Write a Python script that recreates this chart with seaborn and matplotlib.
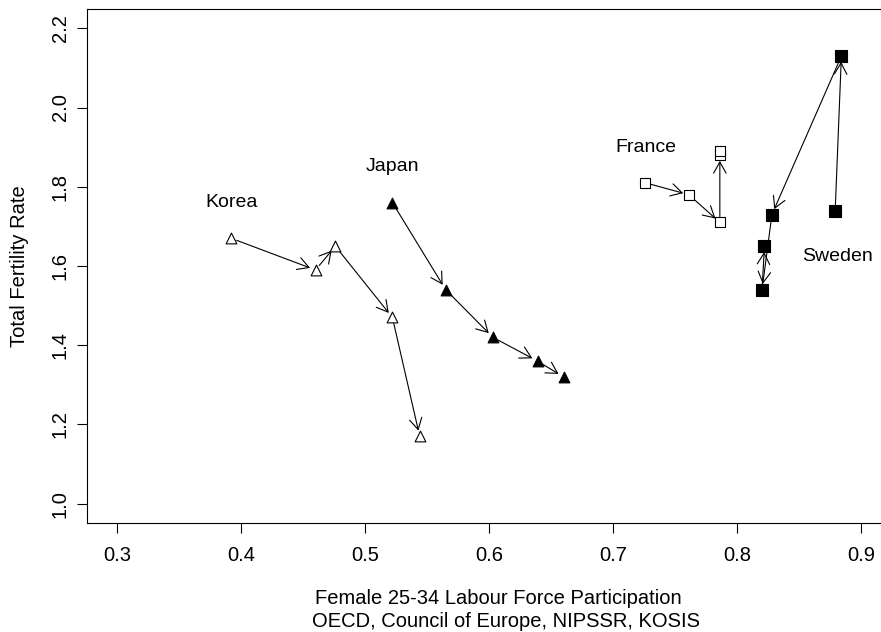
import numpy as np
import pandas as pd
import seaborn as sns
import matplotlib.pyplot as plt

# data
countries = ['Korea', 'Japan', 'France', 'Sweden']

korea_lfp = [0.392, 0.460, 0.476, 0.522, 0.544]
korea_tfr = [1.67, 1.59, 1.65, 1.47, 1.17]

japan_lfp = [0.522, 0.565, 0.603, 0.639, 0.660]
japan_tfr = [1.76, 1.54, 1.42, 1.36, 1.32]

france_lfp = [0.726, 0.761, 0.786, 0.786, 0.786]
france_tfr = [1.81, 1.78, 1.71, 1.88, 1.89]

sweden_lfp = [0.879, 0.884, 0.828, 0.820, 0.822]
sweden_tfr = [1.74, 2.13, 1.73, 1.54, 1.65]

label_x = [0.392, 0.522, 0.726, 0.881]
label_y = [1.76, 1.85, 1.90, 1.625]

x_ticks = [0.3, 0.4, 0.5, 0.6, 0.7, 0.8, 0.9]
y_ticks = [1.0, 1.2, 1.4, 1.6, 1.8, 2.0, 2.2]

sns.set_theme(style='ticks')
plt.rcParams['font.family'] = ['Liberation Sans', 'DejaVu Sans']
plt.rcParams['text.color'] = 'black'
plt.rcParams['xtick.color'] = 'black'
plt.rcParams['ytick.color'] = 'black'
plt.rcParams['axes.labelcolor'] = 'black'

series = {
    'Korea': (korea_lfp, korea_tfr),
    'Japan': (japan_lfp, japan_tfr),
    'France': (france_lfp, france_tfr),
    'Sweden': (sweden_lfp, sweden_tfr),
}
# marker, face colour, size (pt^2)
marker_style = {
    'Korea': ('^', 'white', 60),
    'Japan': ('^', 'black', 60),
    'France': ('s', 'white', 46),
    'Sweden': ('s', 'black', 64),
}

fig = plt.figure(figsize=(8.81, 6.32), dpi=100)
W, H = 881, 632
# plot box runs past the right edge of the image (cropped like the reference)
ax = fig.add_axes([87.3 / W, 1 - 522.7 / H, (891 - 87.3) / W, (522.7 - 9.3) / H])

for name in countries:
    xs, ys = series[name]
    # arrows between consecutive years
    for i in range(len(xs) - 1):
        if abs(xs[i + 1] - xs[i]) < 0.004 and abs(ys[i + 1] - ys[i]) < 0.03:
            continue
        ax.annotate('', xy=(xs[i + 1], ys[i + 1]), xytext=(xs[i], ys[i]),
                    arrowprops=dict(arrowstyle='->,head_length=0.8,head_width=0.45',
                                    lw=0.8, color='black', shrinkA=4.2, shrinkB=4.2,
                                    mutation_scale=10))
    m, fc, s = marker_style[name]
    df = pd.DataFrame({'lfp': xs, 'tfr': ys})
    sns.scatterplot(data=df, x='lfp', y='tfr', marker=m, s=s, color=fc,
                    edgecolor='black', linewidth=0.8, ax=ax, zorder=3)

for name, lx, ly in zip(countries, label_x, label_y):
    ax.text(lx, ly, name, ha='center', va='center', fontsize=14, color='black')

ax.set_xlim(0.276, 0.924)
ax.set_ylim(0.952, 2.248)
ax.set_xticks(x_ticks)
ax.set_yticks(y_ticks)
ax.set_xticklabels([f'{v:.1f}' for v in x_ticks], fontsize=14.5)
ax.set_yticklabels([f'{v:.1f}' for v in y_ticks], fontsize=14.5, rotation=90, va='center')
ax.tick_params(axis='both', direction='out', length=7.5, width=0.8,
               color='black', labelcolor='black')
ax.tick_params(axis='x', pad=9)
ax.tick_params(axis='y', pad=5)
for sp in ax.spines.values():
    sp.set_visible(True)
    sp.set_color('black')
    sp.set_linewidth(0.8)
ax.spines['right'].set_visible(False)
ax.set_xlabel('')
ax.set_ylabel('')

fig.text(498 / W, 1 - 598.3 / H, 'Female 25-34 Labour Force Participation',
         ha='center', va='center', fontsize=14.5, color='black')
fig.text(506 / W, 1 - 621.7 / H, 'OECD, Council of Europe, NIPSSR, KOSIS',
         ha='center', va='center', fontsize=14.5, color='black')
fig.text(20 / W, 1 - 266 / H, 'Total Fertility Rate', rotation=90,
         ha='center', va='center', fontsize=14.5, color='black')

fig.savefig('out.png', dpi=100)
